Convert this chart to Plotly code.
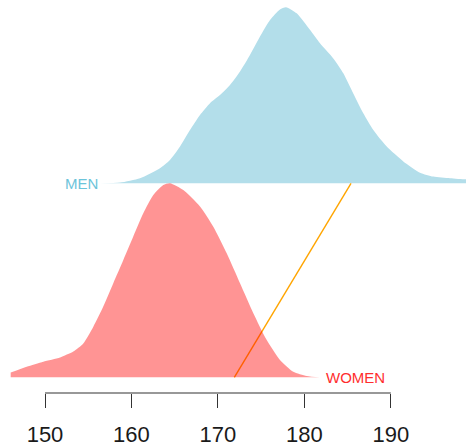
import plotly.graph_objects as go

# Heights (cm) and estimated density values
women_x = [146.03, 147.88, 149.80, 151.74, 153.27, 154.43, 155.59, 156.74, 157.90, 159.06,
           160.21, 161.37, 162.53, 163.68, 164.46, 166.00, 167.93, 169.47, 171.02, 172.56,
           174.10, 175.65, 177.18, 178.72, 180.27, 181.81]
women_d = [0.0017, 0.0038, 0.0056, 0.0071, 0.0092, 0.0121, 0.0181, 0.0253, 0.0336, 0.0419,
           0.0503, 0.0586, 0.0651, 0.0687, 0.0693, 0.0669, 0.0610, 0.0538, 0.0443, 0.0336,
           0.0229, 0.0133, 0.0062, 0.0020, 0.0005, 0.0]

men_x = [156.36, 158.68, 160.99, 163.30, 164.46, 165.62, 166.77, 167.93, 169.09, 170.24,
         171.40, 172.56, 173.71, 174.87, 176.03, 177.18, 177.88, 179.12, 180.65, 181.81,
         183.35, 184.51, 185.66, 186.82, 187.98, 189.53, 191.45, 193.38, 194.92, 196.85,
         198.70, 200.0]
men_d = [0.0, 0.00025, 0.0018, 0.0054, 0.0083, 0.0131, 0.0190, 0.0244, 0.0286, 0.0315,
         0.0351, 0.0399, 0.0458, 0.0524, 0.0583, 0.0621, 0.0629, 0.0607, 0.0548, 0.0500,
         0.0446, 0.0393, 0.0321, 0.0250, 0.0190, 0.0131, 0.0078, 0.0038, 0.0024, 0.0018,
         0.0014, 0.0014]

men_offset = 0.0693
link_x = [171.9, 185.4]          # connecting segment endpoints (women -> men)
tick_vals = [150, 160, 170, 180, 190]
tick_text = ["150", "160", "170", "180", "190"]

FONT = "Liberation Sans, Arial, sans-serif"
fig = go.Figure()

# Men baseline (invisible) + filled density
fig.add_trace(go.Scatter(x=[men_x[0], men_x[-1]], y=[men_offset, men_offset],
                         mode="lines", line=dict(width=0, color="rgba(0,0,0,0)"),
                         hoverinfo="skip", showlegend=False))
fig.add_trace(go.Scatter(x=men_x, y=[men_offset + d for d in men_d],
                         mode="lines", line=dict(width=0, color="#B3DEEA", shape="spline", smoothing=0.6),
                         fill="tonexty", fillcolor="#B3DEEA", showlegend=False))

# Connecting line (drawn under the semi-transparent women fill)
fig.add_trace(go.Scatter(x=link_x, y=[0, men_offset], mode="lines",
                         line=dict(color="#FFA500", width=1.4), showlegend=False))

# Women filled density
fig.add_trace(go.Scatter(x=women_x, y=women_d, mode="lines",
                         line=dict(width=0, color="rgba(255,0,0,0.42)", shape="spline", smoothing=0.6),
                         fill="tozeroy", fillcolor="rgba(255,0,0,0.42)", showlegend=False))

fig.add_annotation(x=men_x[0], y=men_offset, text="MEN", showarrow=False,
                   xanchor="right", yanchor="middle",
                   font=dict(family=FONT, size=15, color="#6CC4DA"))
fig.add_annotation(x=182.3, y=0, text="WOMEN", showarrow=False,
                   xanchor="left", yanchor="middle",
                   font=dict(family=FONT, size=15, color="#FF2E2E"))

# Axis line limited to the tick span
fig.add_shape(type="line", xref="x", yref="paper", x0=tick_vals[0], x1=tick_vals[-1],
              y0=0, y1=0, line=dict(color="#333333", width=1.2))

fig.update_layout(
    width=466, height=446,
    margin=dict(l=0, r=0, t=0, b=53),
    paper_bgcolor="white", plot_bgcolor="white",
    xaxis=dict(range=[144.795, 198.70], tickvals=tick_vals, ticktext=tick_text,
               ticks="outside", ticklen=14, tickwidth=1.2, tickcolor="#333333",
               ticklabelstandoff=8,
               showline=False, showgrid=False, zeroline=False,
               tickfont=dict(family=FONT, size=22, color="#1a1a1a")),
    yaxis=dict(range=[-0.0056, 0.13475], visible=False, showgrid=False, zeroline=False),
)

fig.write_html("out.html", config={"displayModeBar": False},
               post_script="document.body.style.margin='0px';document.body.style.overflow='hidden';")
